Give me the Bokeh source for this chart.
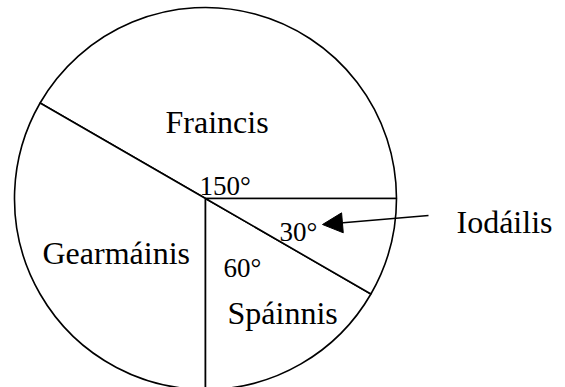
import math
from bokeh.plotting import figure
from bokeh.models import Range1d, ColumnDataSource, Arrow, NormalHead
from bokeh.core.properties import value
from bokeh.embed import file_html
from bokeh.resources import INLINE

# ---- data ----
languages = ["Fraincis", "Gearmáinis", "Spáinnis", "Iodáilis"]
degrees = [150, 120, 60, 30]
degree_labels = ["150°", "", "60°", "30°"]

# ---- layout (reference pixel space, y downward) ----
CX, CY, R = 205, 198, 191
name_pos = [(165, 121), (42, 252), (227, 312), (456, 221)]
deg_pos = [(199, 185), None, (223, 267), (279, 231)]
arrow_from = (428, 215)
arrow_to = (322, 224)

W, H = 565, 387
p = figure(width=W, height=H, output_backend="svg", toolbar_location=None,
           x_range=Range1d(0, W), y_range=Range1d(-H, 0),
           min_border=0, background_fill_color="white",
           border_fill_color="white")
p.axis.visible = False
p.xgrid.visible = False
p.ygrid.visible = False
p.outline_line_color = None

# wedges, counter-clockwise from the right
starts, ends = [], []
acc = 0.0
for d in degrees:
    starts.append(math.radians(acc))
    acc += d
    ends.append(math.radians(acc))

src = ColumnDataSource(dict(x=[CX] * len(degrees), y=[-CY] * len(degrees),
                            start=starts, end=ends, name=languages))
p.wedge(x="x", y="y", radius=R, start_angle="start", end_angle="end",
        fill_color="white", line_color="black", line_width=1.6, source=src)

font = value("Liberation Serif")
p.text(x=[q[0] for q in name_pos], y=[-q[1] for q in name_pos], text=languages,
       text_font=font, text_font_size="32px", text_color="black",
       text_align="left", text_baseline="alphabetic")

dx, dy, dt = [], [], []
for lab, pos in zip(degree_labels, deg_pos):
    if lab and pos:
        dx.append(pos[0]); dy.append(-pos[1]); dt.append(lab)
p.text(x=dx, y=dy, text=dt, text_font=font, text_font_size="27px",
       text_color="black", text_align="left", text_baseline="alphabetic")

p.add_layout(Arrow(end=NormalHead(size=20, fill_color="black", line_color="black", line_width=1),
                   x_start=arrow_from[0], y_start=-arrow_from[1],
                   x_end=arrow_to[0], y_end=-arrow_to[1],
                   line_color="black", line_width=1.3))

open("out.html", "w").write(file_html(p, INLINE))
